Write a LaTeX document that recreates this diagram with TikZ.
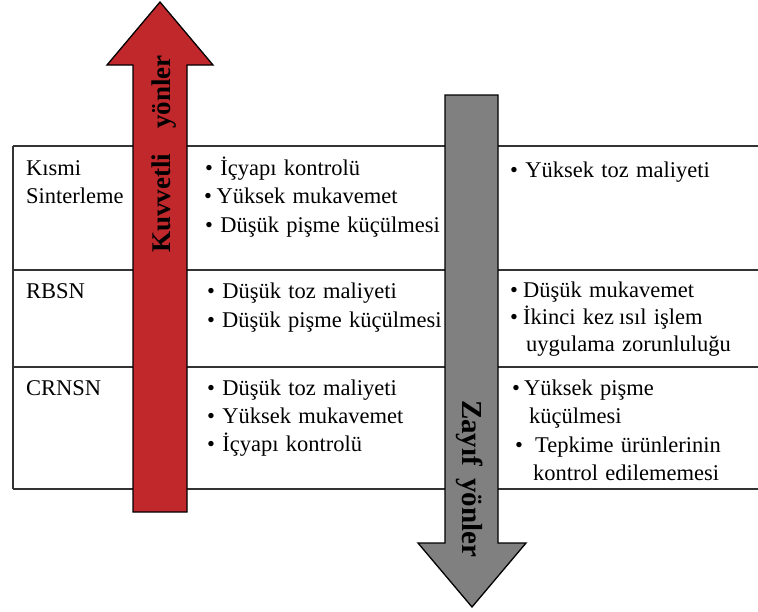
\documentclass[tikz,border=0pt]{standalone}
\usepackage{fontspec}
\setmainfont{Liberation Serif}
\definecolor{arrowred}{RGB}{192,40,44}
\definecolor{arrowgrey}{RGB}{128,128,128}
\newcommand\mycellfont{\fontsize{22.5}{26}\selectfont}
\newcommand\mywidespace{\spaceskip 7.3pt\relax}
\begin{document}
\begin{tikzpicture}[x=1pt,y=-1pt,
  tableline/.style={draw=black!80, line width=1.2pt},
  arrowshape/.style={draw=black, line width=1.3pt, line join=miter},
  cell/.style={anchor=base west, inner sep=0pt, font=\mycellfont, execute at begin node=\mywidespace},
  arrowtext/.style={anchor=base, inner sep=0pt}]
\path[use as bounding box, fill=white] (0,0) rectangle (758,611);
% table
\draw[tableline] (13,146) -- (758,146);
\draw[tableline] (13,270) -- (758,270);
\draw[tableline] (13,367) -- (758,367);
\draw[tableline] (13,489) -- (758,489);
\draw[tableline] (13,146) -- (13,489);
% column 1
\node[cell] (k1) at (26,175) {Kısmi};
\node[cell] (k2) at (26,203) {Sinterleme};
\node[cell] (rb) at (26,298) {RBSN};
\node[cell] (cr) at (26,395) {CRNSN};
% column 2
\node[cell] (a1) at (205,175) {• İçyapı kontrolü};
\node[cell] (a2) at (204,203) {•\hspace{4.5pt}Yüksek mukavemet};
\node[cell] (a3) at (205,232) {• Düşük pişme küçülmesi};
\node[cell] (b1) at (207,298) {• Düşük toz maliyeti};
\node[cell] (b2) at (207,327) {•\hspace{7pt}Düşük pişme küçülmesi};
\node[cell] (c1) at (207,395) {• Düşük toz maliyeti};
\node[cell] (c2) at (207,423) {• Yüksek mukavemet};
\node[cell] (c3) at (207,451) {• İçyapı kontrolü};
% column 3
\node[cell] (d1) at (510,177) {• Yüksek toz maliyeti};
\node[cell] (e1) at (510,297) {•\hspace{5pt}Düşük mukavemet};
\node[cell] (e2) at (510,324) {•\hspace{5pt}İkinci kez\hspace{5pt}ısıl işlem};
\node[cell] (e3) at (526,351) {uygulama zorunluluğu};
\node[cell] (f1) at (512,395) {•\hspace{4pt}Yüksek pişme};
\node[cell] (f2) at (529,423) {küçülmesi};
\node[cell] (f3) at (515,452) {•\hspace{12pt}Tepkime ürünlerinin};
\node[cell] (f4) at (533,480) {kontrol edilememesi};
% arrows
\draw[arrowshape, fill=arrowred] (133,512) -- (133,65) -- (107,65) -- (160,2) -- (213,65) -- (187,65) -- (187,512) -- cycle;
\draw[arrowshape, fill=arrowgrey] (445,95) -- (445,543) -- (418,543) -- (472,607) -- (526,543) -- (498,543) -- (498,95) -- cycle;
\node[arrowtext, rotate=90, font=\bfseries\fontsize{27}{30}\selectfont] (kuv) at (170,154) {Kuvvetli\hspace{25pt}yönler};
\node[arrowtext, rotate=-90, font=\bfseries\fontsize{29}{32}\selectfont] (zay) at (462,478.5) {Zayıf\hspace{12pt}yönler};
\end{tikzpicture}
\end{document}
